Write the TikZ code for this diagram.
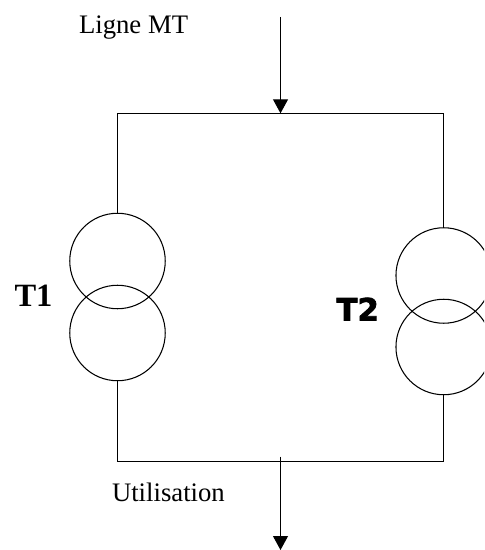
\documentclass[tikz,border=0pt]{standalone}
\usepackage{fontspec}
\setmainfont{Liberation Serif}
\newfontfamily\heavyfont[FakeBold=2.6]{DejaVu Sans Bold}
\usetikzlibrary{arrows.meta}
\tikzset{
    coil/.style={circle,draw,minimum size=1.91cm,inner sep=0pt,outer sep=0pt},
    feed/.style={-{Triangle[length=.28cm,width=.3cm]}},
    lbl/.style={anchor=base west,inner sep=0pt,font=\fontsize{15.2}{18}\selectfont},
}
\begin{document}
\begin{tikzpicture}[x=.02cm,y=-.02cm,line width=.6pt]
        \useasboundingbox(0,0)rectangle(484,550);
        \clip(0,0)rectangle(484,550);
        \node[coil](t1a)at(117.5,261){};
        \node[coil](t1b)at(117.5,333){};
        \node[coil](t2a)at(443.7,275.5){};
        \node[coil](t2b)at(443.7,347){};
        \coordinate(hg)at(117.5,113.3);
        \coordinate(hd)at(443.7,113.3);
        \coordinate(bg)at(117.5,461.3);
        \coordinate(bd)at(443.7,461.3);
        \coordinate(in0)at(280.5,17);
        \coordinate(in1)at(280.5,113.3);
        \coordinate(out0)at(280.5,456.7);
        \coordinate(out1)at(280.5,550);
        \draw(t1a.north)--(hg)--(hd)--(t2a.north);
        \draw(t1b.south)--(bg)--(bd)--(t2b.south);
        \draw[feed](in0)--(in1);
        \draw[feed](out0)--(out1);
        \node[lbl](ligne)at(78.5,33.5){Ligne MT};
        \node[lbl](util)at(111.5,501){Utilisation};
        \node[lbl,font=\fontsize{18.5}{20}\bfseries\selectfont](t1)at(14,306){T1};
        \node[lbl,font=\fontsize{17.5}{20}\heavyfont](t2)at(336,320.5){T2};
\end{tikzpicture}
\end{document}
